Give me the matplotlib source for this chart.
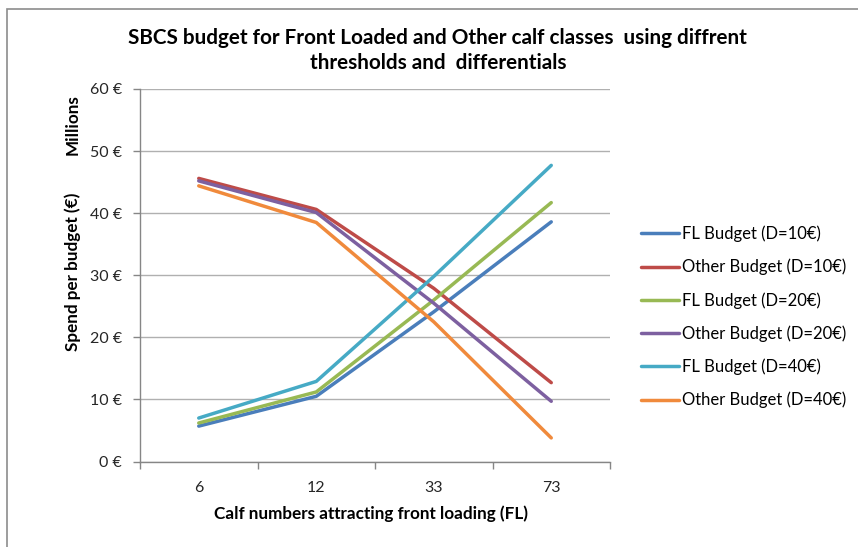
import matplotlib
matplotlib.use('Agg')
import matplotlib.pyplot as plt
from matplotlib.patches import Rectangle

plt.rcParams['font.family'] = ['Lato', 'DejaVu Sans']

categories = ['6', '12', '33', '73']
fl_d10 = [5.7, 10.5, 24.1, 38.6]
other_d10 = [45.6, 40.6, 27.9, 12.7]
fl_d20 = [6.2, 11.2, 26.0, 41.7]
other_d20 = [45.2, 40.1, 25.5, 9.7]
fl_d40 = [7.0, 12.9, 29.8, 47.7]
other_d40 = [44.4, 38.5, 22.5, 3.8]

series = [
    ('FL Budget (D=10€)', fl_d10, '#4A7EBB'),
    ('Other Budget (D=10€)', other_d10, '#BE4B48'),
    ('FL Budget (D=20€)', fl_d20, '#98B954'),
    ('Other Budget (D=20€)', other_d20, '#7D60A0'),
    ('FL Budget (D=40€)', fl_d40, '#46AAC5'),
    ('Other Budget (D=40€)', other_d40, '#F08A3C'),
]
y_ticks = [0, 10, 20, 30, 40, 50, 60]

fig = plt.figure(figsize=(8.58, 5.47), dpi=100)
ax = fig.add_axes([140 / 858, 1 - 461.5 / 547, 470 / 858, 372.5 / 547])

# cadre exterieur (coupe a droite/en bas comme la capture)
fig.patches.append(Rectangle((7 / 858, -0.1), 1.2, 1 - 9 / 547 + 0.1,
                             transform=fig.transFigure, fill=False,
                             edgecolor='#8c8c8c', linewidth=1.2))

x = list(range(len(categories)))
for label, vals, col in series:
    ax.plot(x, vals, color=col, linewidth=2.5, label=label, solid_capstyle='round')

ax.set_xlim(-0.5, len(categories) - 0.5)
ax.set_ylim(0, 60)
ax.set_yticks(y_ticks)
ax.set_yticklabels([f'{v} €' for v in y_ticks])
ax.yaxis.grid(True, color='#b0b0b0', linewidth=1.0)
ax.set_axisbelow(True)

ax.set_xticks([i - 0.5 for i in range(len(categories) + 1)])
ax.set_xticklabels([])
ax.set_xticks(x, minor=True)
ax.set_xticklabels(categories, minor=True)
ax.tick_params(axis='x', which='major', length=5, color='#868686', width=1)
ax.tick_params(axis='x', which='minor', length=0, pad=14, labelsize=11.5, labelcolor='#262626')
ax.tick_params(axis='y', length=5, color='#868686', width=1, pad=8,
               labelsize=11.5, labelcolor='#262626')

for s in ['top', 'right']:
    ax.spines[s].set_visible(False)
for s in ['left', 'bottom']:
    ax.spines[s].set_color('#868686')
    ax.spines[s].set_linewidth(1)

fig.text(437 / 858, 1 - 38 / 547,
         'SBCS budget for Front Loaded and Other calf classes  using diffrent',
         ha='center', va='center', fontsize=14.9, fontweight='bold')
fig.text(438 / 858, 1 - 63 / 547, 'thresholds and  differentials',
         ha='center', va='center', fontsize=14.9, fontweight='bold')

fig.text(73 / 858, 1 - 125 / 547, 'Millions', rotation=90,
         ha='center', va='center', fontsize=12.3, fontweight='bold')
fig.text(73 / 858, 1 - 272 / 547, 'Spend per budget (€)', rotation=90,
         ha='center', va='center', fontsize=12.3, fontweight='bold')
fig.text(371 / 858, 1 - 514 / 547, 'Calf numbers attracting front loading (FL)',
         ha='center', va='center', fontsize=12.3, fontweight='bold')

fig.legend(loc='center left', bbox_to_anchor=(634 / 858, 1 - 317 / 547),
           frameon=False, fontsize=12.0, handlelength=2.3, handletextpad=0.2,
           labelspacing=1.0, borderaxespad=0)

fig.savefig('out.png', dpi=100)
